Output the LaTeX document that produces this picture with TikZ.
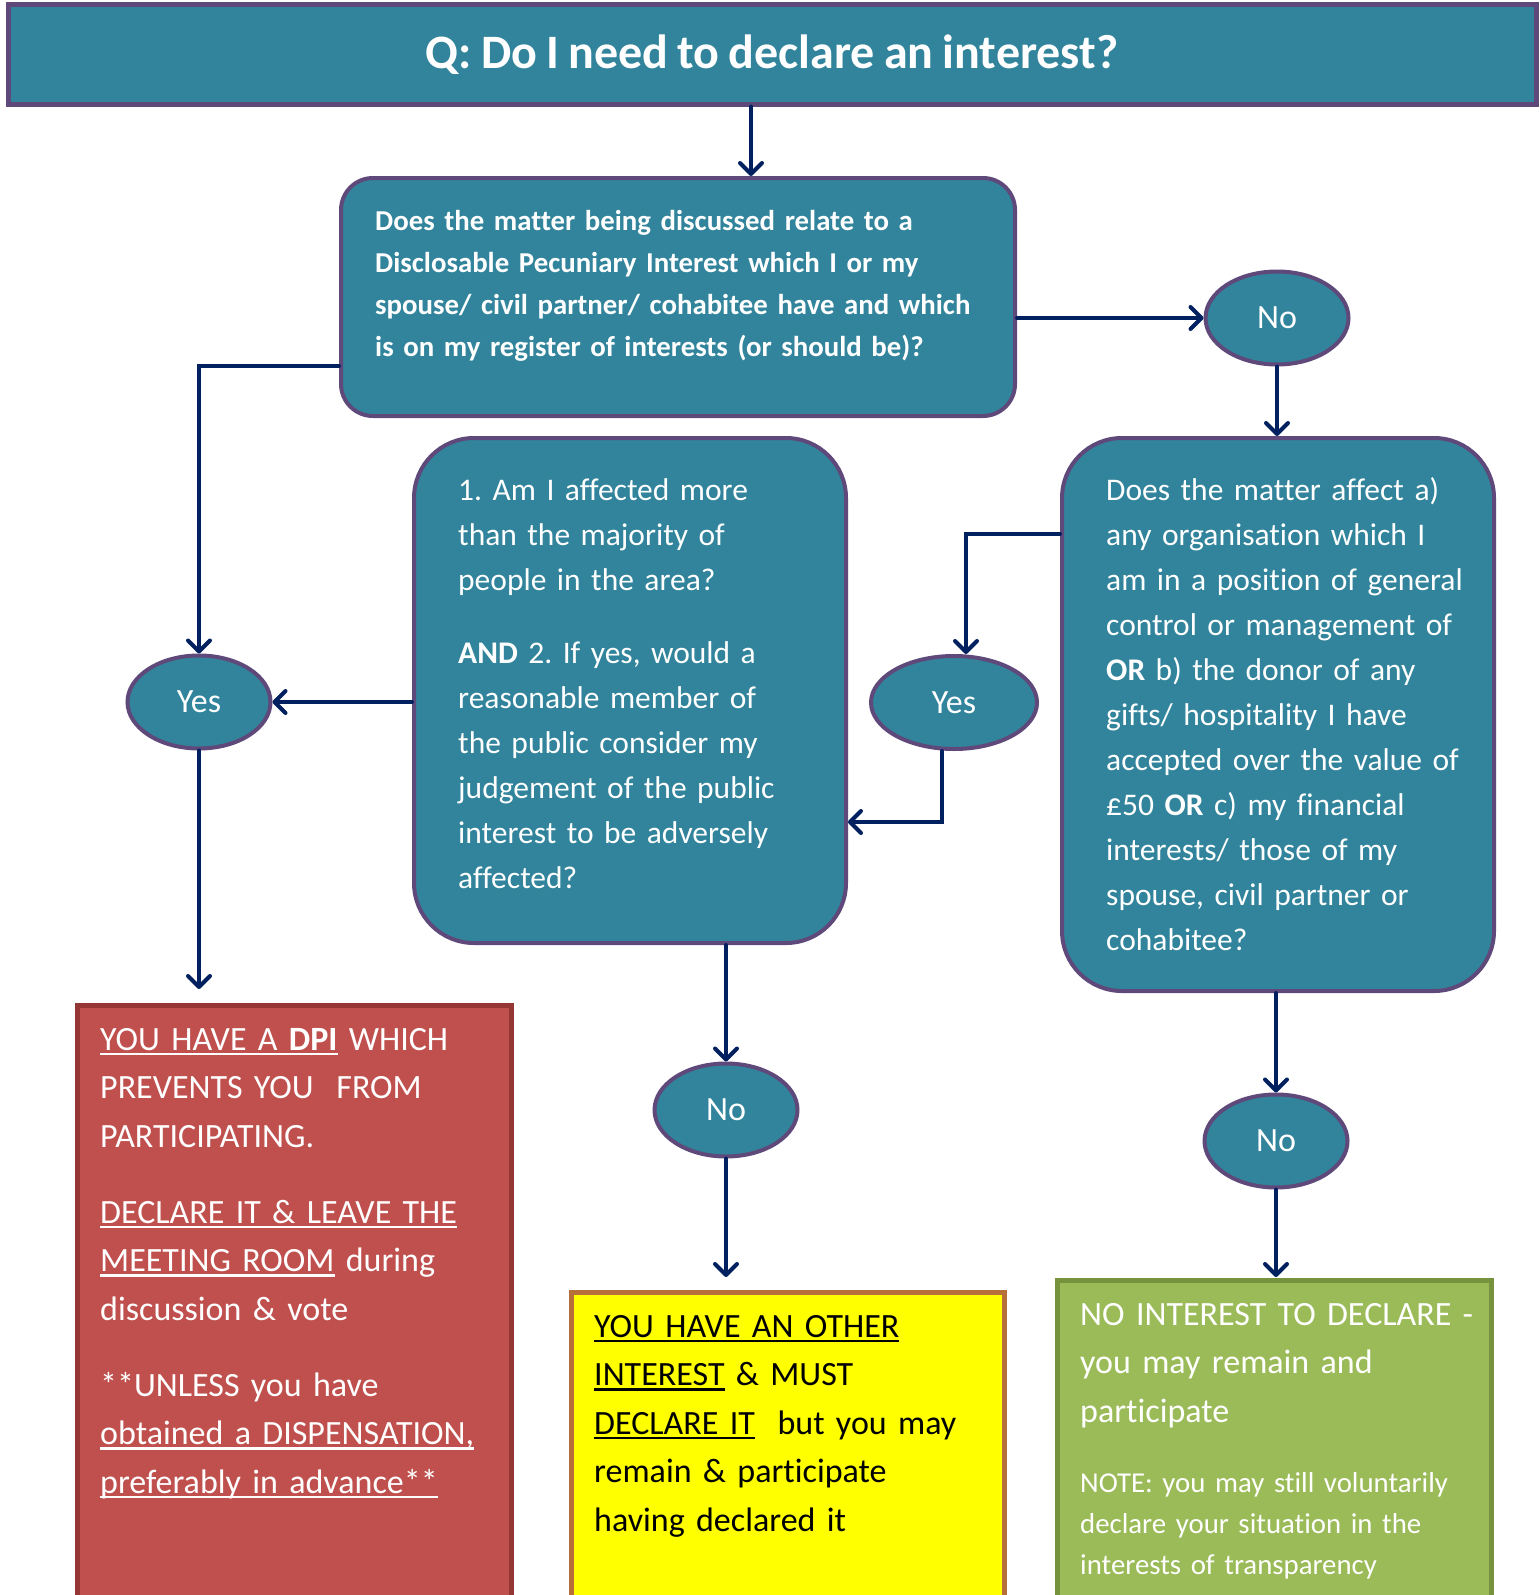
\documentclass[tikz,border=0pt]{standalone}
\usepackage{fontspec}
\setmainfont{Carlito}[WordSpace=0.85,Ligatures=NoCommon]
\usepackage{tikz}
\usetikzlibrary{shapes.geometric, arrows.meta, positioning, calc}
\definecolor{declteal}{HTML}{31849B}
\definecolor{declpurple}{HTML}{5F497A}
\definecolor{declnavy}{HTML}{002060}
\definecolor{dpired}{HTML}{C0504D}
\definecolor{dpiredline}{HTML}{943634}
\definecolor{otheryellow}{HTML}{FFFF00}
\definecolor{otherline}{HTML}{B7703A}
\definecolor{nonegreen}{HTML}{9BBB59}
\definecolor{nonegreenline}{HTML}{76923C}
\newcommand{\ulbox}[1]{\leavevmode\setbox0=\hbox{#1}\rlap{\rule[-5pt]{\wd0}{2.2pt}}\box0\relax}
\frenchspacing

\begin{document}
\begin{tikzpicture}[x=1pt,y=-1pt,
    qbox/.style={draw=declpurple,fill=declteal,line width=4pt,rounded corners=#1,inner sep=0pt},
    answer/.style={ellipse,draw=declpurple,fill=declteal,line width=4pt,minimum width=143pt,minimum height=93pt,inner sep=0pt,text=white,font=\fontsize{34}{40}\selectfont},
    qtext/.style={anchor=base west,inner sep=0pt,align=left,text=white},
    flow/.style={draw=declnavy,line width=4pt,line cap=round,-{Straight Barb[length=11pt,width=22pt,round]}},
    outcome/.style={draw=#1,line width=5pt,inner sep=0pt}]
    \clip (0,0) rectangle (1539,1595);

    % Titolo
    \node[qbox=0pt, line width=5pt, minimum width=1528pt, minimum height=99pt, text=white,
          font=\fontsize{48}{56}\selectfont\bfseries] (title) at (772,54.5) {Q: Do I need to declare an interest?};

    % Domande
    \node[qbox=32pt, minimum width=674pt, minimum height=238pt] (dpiq) at (678,297) {};
    \node[qtext, text width=620pt, font=\fontsize{28.8}{42}\selectfont\bfseries] (dpiqtext) at (375,230)
        {Does the matter being discussed relate to a\\
         Disclosable Pecuniary Interest which I or my\\
         spouse/ civil partner/ cohabitee have and which\\
         is on my register of interests (or should be)?};

    \node[qbox=60pt, minimum width=432pt, minimum height=505pt] (publicq) at (630,690.5) {};
    \node[qtext, text width=420pt, font=\fontsize{31.5}{45}\selectfont] (publicqtext) at (458,500)
        {1. Am I affected more\\
         than the majority of\\
         people in the area?\\[28pt]
         \textbf{AND} 2. If yes, would a\\
         reasonable member of\\
         the public consider my\\
         judgement of the public\\
         interest to be adversely\\
         affected?};

    \node[qbox=60pt, minimum width=432pt, minimum height=553pt] (otherq) at (1278,714.5) {};
    \node[qtext, text width=420pt, font=\fontsize{31.5}{45}\selectfont] (otherqtext) at (1106,500)
        {Does the matter affect a)\\
         any organisation which I\\
         am in a position of general\\
         control or management of\\
         \textbf{OR} b) the donor of any\\
         gifts/ hospitality I have\\
         accepted over the value of\\
         £50 \textbf{OR} c) my financial\\
         interests/ those of my\\
         spouse, civil partner or\\
         cohabitee?};

    % Risposte
    \node[answer] (no1) at (1277,318) {No};
    \node[answer] (yes1) at (199,702) {Yes};
    \node[answer, minimum width=166pt] (yes2) at (954,702.5) {Yes};
    \node[answer] (no2) at (726,1110) {No};
    \node[answer] (no3) at (1276,1141) {No};

    % Esiti
    \node[outcome=dpiredline, fill=dpired, minimum width=434pt, minimum height=605pt] (dpibox) at (294,1307.5) {};
    \node[qtext, text width=420pt, font=\fontsize{34}{48.5}\selectfont] (dpitext) at (100,1050)
        {\ulbox{YOU HAVE A \textbf{DPI}} WHICH\\
         PREVENTS YOU\ \ FROM\\
         PARTICIPATING.\\[27.5pt]
         \ulbox{DECLARE IT \& LEAVE THE}\\
         \ulbox{MEETING ROOM} during\\
         discussion \& vote\\[27.5pt]
         **UNLESS you have\\
         \ulbox{obtained a DISPENSATION,}\\
         \ulbox{preferably in advance**}};

    \node[outcome=otherline, fill=otheryellow, minimum width=433pt, minimum height=318pt] (otherbox) at (787.5,1451) {};
    \node[qtext, text=black, text width=420pt, font=\fontsize{34}{48.5}\selectfont] (othertext) at (594,1337)
        {\ulbox{YOU HAVE AN OTHER}\\
         \ulbox{INTEREST} \& MUST\\
         \ulbox{DECLARE IT}\ \ but you may\\
         remain \& participate\\
         having declared it};

    \node[outcome=nonegreenline, fill=nonegreen, minimum width=434pt, minimum height=330pt] (nonebox) at (1274,1445) {};
    \node[qtext, text width=420pt, font=\fontsize{34}{48.5}\selectfont] (nonetext) at (1080,1325)
        {NO INTEREST TO DECLARE -\\
         you may remain and\\
         participate};
    \node[qtext, text width=420pt, font=\fontsize{28.8}{41}\selectfont] (nonenote) at (1080,1492)
        {NOTE: you may still voluntarily\\
         declare your situation in the\\
         interests of transparency};

    % Frecce
    \coordinate (titledrop) at (751,0);
    \coordinate (dpiyes) at (0,366);
    \coordinate (otheryes) at (966,534);
    \coordinate (yesback) at (942,822);
    \coordinate (dpiin) at (0,989);
    \coordinate (boxin) at (0,1277);

    \draw[flow] (title.south -| titledrop) -- (dpiq.north -| titledrop);
    \draw[flow] (dpiq.east |- no1.west) -- (no1.west);
    \draw[flow] (no1.south) -- (otherq.north -| no1.south);
    \draw[flow] (dpiq.west |- dpiyes) -| (yes1.north);
    \draw[flow] (publicq.west |- yes1.east) -- (yes1.east);
    \draw[flow] (yes1.south) -- (yes1.south |- dpiin);
    \draw[flow] (otherq.west |- otheryes) -- (otheryes) -- (otheryes |- yes2.north);
    \draw[flow] (yes2.south -| yesback) -- (yesback) -- (publicq.east |- yesback);
    \draw[flow] (publicq.south -| no2.north) -- (no2.north);
    \draw[flow] (no2.south) -- (no2.south |- boxin);
    \draw[flow] (otherq.south -| no3.north) -- (no3.north);
    \draw[flow] (no3.south) -- (no3.south |- boxin);
\end{tikzpicture}
\end{document}
